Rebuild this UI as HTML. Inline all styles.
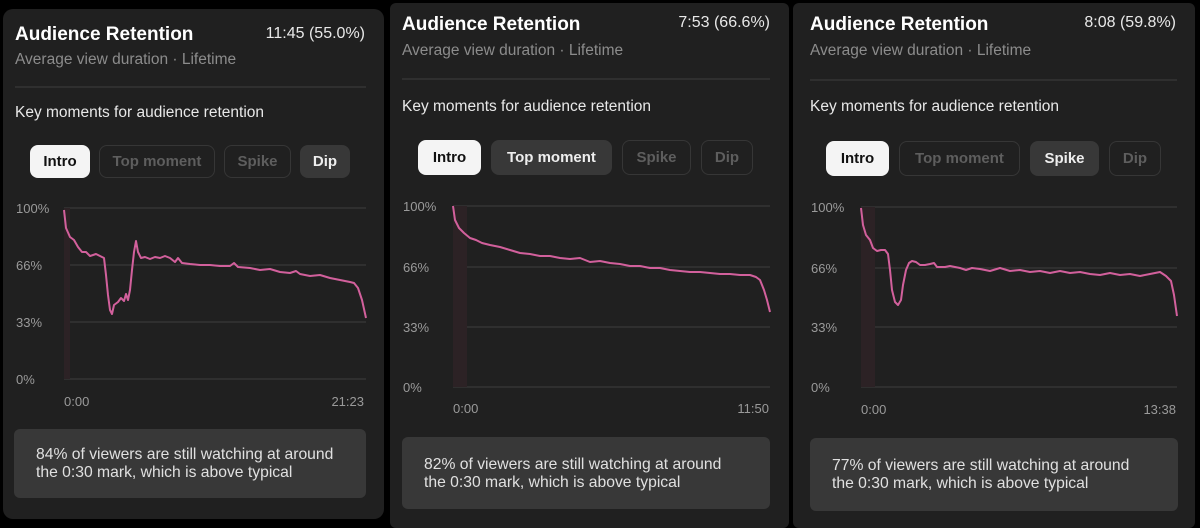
<!DOCTYPE html>
<html><head><meta charset="utf-8"><style>
body{margin:0;width:1200px;height:522px;background:#000;position:relative;overflow:hidden;font-family:"Liberation Sans",sans-serif;}
.p{position:absolute;background:#202020;border-radius:10px;}
.t{position:absolute;color:#fff;white-space:nowrap;}
.b{position:absolute;border-radius:8px;font-weight:bold;font-size:15px;text-align:center;box-sizing:border-box;}
.on{background:#f4f4f4;color:#111;}
.off{border:1px solid #363636;color:#5e5e5e;}
.sel{background:#383838;color:#eee;}
.card{position:absolute;background:#383838;border-radius:6px;color:#e0e0e0;font-size:15.7px;line-height:18px;box-sizing:border-box;}
.sub{font-size:15.5px;color:#8c8c8c;}
.km{font-size:15.5px;color:#e8e8e8;}
</style></head><body>
<div class="p" style="left:3px;top:9px;width:381px;height:510px"></div>
<div class="p" style="left:390px;top:3px;width:399px;height:525px;border-radius:6px"></div>
<div class="p" style="left:793px;top:3px;width:402px;height:525px;border-radius:6px"></div>

<svg width="1200" height="522" style="position:absolute;left:0;top:0">
<g stroke="#3e3e3e" stroke-width="1">
<line x1="15" y1="87" x2="366" y2="87"/><line x1="402" y1="79" x2="770" y2="79"/><line x1="810" y1="80" x2="1177" y2="80"/>
<line x1="64" y1="208" x2="366" y2="208"/><line x1="64" y1="265" x2="366" y2="265"/><line x1="64" y1="322" x2="366" y2="322"/><line x1="64" y1="379" x2="366" y2="379"/>
<line x1="453" y1="206" x2="770" y2="206"/><line x1="453" y1="267" x2="770" y2="267"/><line x1="453" y1="327" x2="770" y2="327"/><line x1="453" y1="387" x2="770" y2="387"/>
<line x1="861" y1="207" x2="1177" y2="207"/><line x1="861" y1="268" x2="1177" y2="268"/><line x1="861" y1="327" x2="1177" y2="327"/><line x1="861" y1="387" x2="1177" y2="387"/>
</g>
<rect x="64" y="208" width="6" height="171" fill="#2c2225"/>
<rect x="453" y="206" width="14" height="181" fill="#2c2225"/>
<rect x="861" y="207" width="14" height="180" fill="#2c2225"/>
<g fill="none" stroke="#d2609c" stroke-width="2" stroke-linejoin="round">
<polyline points="64,210 66,228 70,237 74,240 78,247 82,252 86,252 90,256 96,254 100,256 104,258 106,275 108,295 110,310 112,314 114,305 118,302 121,298 124,301 126,294 128,300 130,290 132,270 134,252 136,241 138,252 141,258 145,257 150,259 155,257 160,258 165,256 170,258 175,262 178,258 182,263 190,264 200,265 210,265 220,266 230,266 234,263 238,267 250,268 260,270 270,269 280,272 290,273 296,271 300,274 310,276 320,275 330,278 340,280 350,282 354,283 358,288 362,300 366,318"/>
<polyline points="453,206 455,220 459,228 464,233 470,238 476,240 482,243 490,245 500,247 510,250 520,253 530,254 540,256 550,256 560,258 570,259 580,258 590,262 600,261 610,263 620,264 630,266 640,266 650,268 660,268 670,270 680,271 690,272 700,272 710,273 720,274 730,274 740,275 750,275 756,277 760,280 764,290 767,300 770,312"/>
<polyline points="861,208 863,225 866,235 870,240 873,248 877,251 881,250 885,250 888,254 890,270 892,290 895,302 898,305 901,300 903,285 906,270 909,263 912,261 916,262 920,265 925,265 930,264 934,263 937,267 945,267 950,266 960,268 966,270 972,268 980,269 990,271 1000,268 1010,271 1020,270 1030,272 1040,271 1050,273 1060,271 1070,273 1080,272 1090,274 1100,275 1110,273 1120,275 1130,274 1140,276 1150,274 1160,272 1166,276 1171,281 1174,295 1177,316"/>
</g>
</svg>

<div class="t" style="left:15px;top:24px;font-size:19px;font-weight:bold">Audience Retention</div>
<div class="t" style="right:835px;top:25px;font-size:16px;color:#e8e8e8">11:45 (55.0%)</div>
<div class="t sub" style="left:15px;top:51px">Average view duration · Lifetime</div>
<div class="t km" style="left:15px;top:104px">Key moments for audience retention</div>
<div class="b on" style="left:30px;top:145px;width:60px;height:33px;line-height:33px">Intro</div>
<div class="b off" style="left:99px;top:145px;width:116px;height:33px;line-height:31px">Top moment</div>
<div class="b off" style="left:224px;top:145px;width:67px;height:33px;line-height:31px">Spike</div>
<div class="b sel" style="left:300px;top:145px;width:50px;height:33px;line-height:33px">Dip</div>
<div class="t" style="left:16px;top:201px;font-size:13px;color:#9a9a9a">100%</div>
<div class="t" style="left:16px;top:258px;font-size:13px;color:#9a9a9a">66%</div>
<div class="t" style="left:16px;top:315px;font-size:13px;color:#9a9a9a">33%</div>
<div class="t" style="left:16px;top:372px;font-size:13px;color:#9a9a9a">0%</div>
<div class="t" style="left:64px;top:394px;font-size:13px;color:#9a9a9a">0:00</div>
<div class="t" style="right:836px;top:394px;font-size:13px;color:#9a9a9a">21:23</div>
<div class="card" style="left:14px;top:429px;width:352px;height:69px;padding:17px 0 0 22px">84% of viewers are still watching at around<br>the 0:30 mark, which is above typical</div>

<div class="t" style="left:402px;top:14px;font-size:19px;font-weight:bold">Audience Retention</div>
<div class="t" style="right:430px;top:14px;font-size:16px;color:#e8e8e8">7:53 (66.6%)</div>
<div class="t sub" style="left:402px;top:42px">Average view duration · Lifetime</div>
<div class="t km" style="left:402px;top:98px">Key moments for audience retention</div>
<div class="b on" style="left:418px;top:140px;width:63px;height:35px;line-height:35px">Intro</div>
<div class="b sel" style="left:491px;top:140px;width:121px;height:35px;line-height:35px">Top moment</div>
<div class="b off" style="left:622px;top:140px;width:69px;height:35px;line-height:33px">Spike</div>
<div class="b off" style="left:701px;top:140px;width:52px;height:35px;line-height:33px">Dip</div>
<div class="t" style="left:403px;top:199px;font-size:13px;color:#9a9a9a">100%</div>
<div class="t" style="left:403px;top:260px;font-size:13px;color:#9a9a9a">66%</div>
<div class="t" style="left:403px;top:320px;font-size:13px;color:#9a9a9a">33%</div>
<div class="t" style="left:403px;top:380px;font-size:13px;color:#9a9a9a">0%</div>
<div class="t" style="left:453px;top:401px;font-size:13px;color:#9a9a9a">0:00</div>
<div class="t" style="right:431px;top:401px;font-size:13px;color:#9a9a9a">11:50</div>
<div class="card" style="left:402px;top:437px;width:368px;height:72px;padding:19px 0 0 22px">82% of viewers are still watching at around<br>the 0:30 mark, which is above typical</div>

<div class="t" style="left:810px;top:14px;font-size:19px;font-weight:bold">Audience Retention</div>
<div class="t" style="right:24px;top:14px;font-size:16px;color:#e8e8e8">8:08 (59.8%)</div>
<div class="t sub" style="left:810px;top:42px">Average view duration · Lifetime</div>
<div class="t km" style="left:810px;top:98px">Key moments for audience retention</div>
<div class="b on" style="left:826px;top:141px;width:63px;height:35px;line-height:35px">Intro</div>
<div class="b off" style="left:899px;top:141px;width:121px;height:35px;line-height:33px">Top moment</div>
<div class="b sel" style="left:1030px;top:141px;width:69px;height:35px;line-height:35px">Spike</div>
<div class="b off" style="left:1109px;top:141px;width:52px;height:35px;line-height:33px">Dip</div>
<div class="t" style="left:811px;top:200px;font-size:13px;color:#9a9a9a">100%</div>
<div class="t" style="left:811px;top:261px;font-size:13px;color:#9a9a9a">66%</div>
<div class="t" style="left:811px;top:320px;font-size:13px;color:#9a9a9a">33%</div>
<div class="t" style="left:811px;top:380px;font-size:13px;color:#9a9a9a">0%</div>
<div class="t" style="left:861px;top:402px;font-size:13px;color:#9a9a9a">0:00</div>
<div class="t" style="right:24px;top:402px;font-size:13px;color:#9a9a9a">13:38</div>
<div class="card" style="left:810px;top:438px;width:368px;height:73px;padding:19px 0 0 22px">77% of viewers are still watching at around<br>the 0:30 mark, which is above typical</div>
</body></html>
